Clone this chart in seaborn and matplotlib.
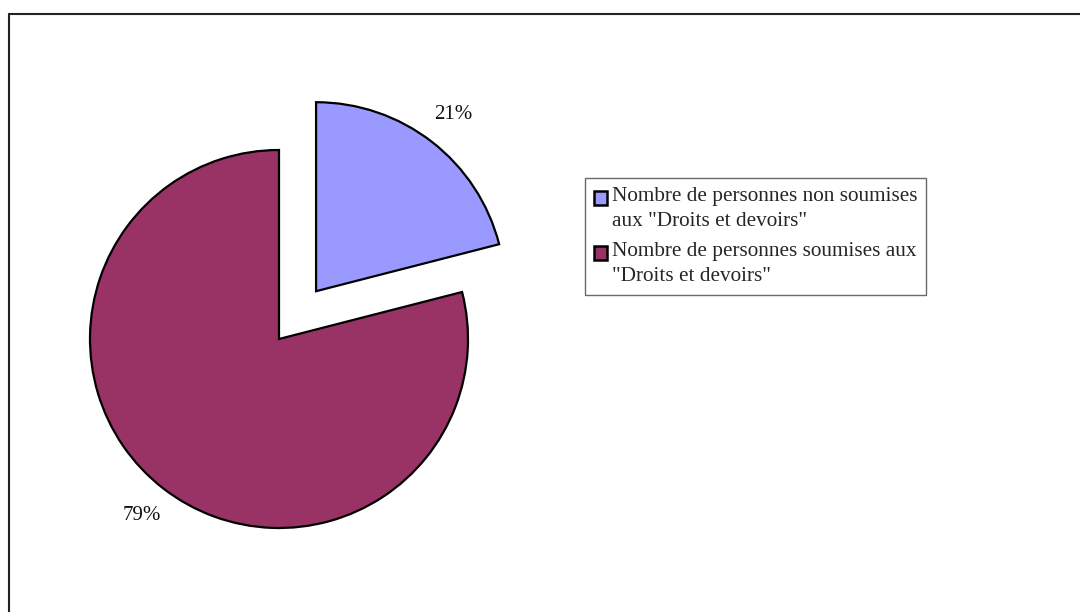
import matplotlib
matplotlib.use("Agg")
import matplotlib.pyplot as plt
import seaborn as sns
from matplotlib.lines import Line2D
from matplotlib.patches import Rectangle
from matplotlib.legend_handler import HandlerPatch

categories = ['Nombre de personnes non soumises\naux "Droits et devoirs"',
              'Nombre de personnes soumises aux\n"Droits et devoirs"']
values = [21, 79]
colors = ["#9999FF", "#993366"]
explode = [0.32, 0.0]

sns.set_theme(style="white")
plt.rcParams['font.family'] = ['Liberation Serif', 'DejaVu Serif']

W, H = 1080, 612
fig = plt.figure(figsize=(W / 100, H / 100), dpi=100)

# pie axes: centre at (279, 339) px, radius 189 px, limits [-1.5, 1.5]
r = 189
cx, cy = 279, 339
half = 1.5 * r
ax = fig.add_axes([(cx - half) / W, (H - cy - half) / H, 2 * half / W, 2 * half / H])
wedges, texts, autotexts = ax.pie(
    values, colors=colors, explode=explode, startangle=90, counterclock=False,
    autopct=lambda p: f"{p:.0f}%", pctdistance=1.18,
    wedgeprops=dict(edgecolor="black", linewidth=1.6),
    textprops=dict(fontsize=15, color="#111111"))
ax.set_xlim(-1.5, 1.5)
ax.set_ylim(-1.5, 1.5)
ax.set_aspect('auto')
ax.axis('off')


class TopSquareHandler(HandlerPatch):
    """Square legend key aligned with the first text line."""
    def create_artists(self, legend, orig_handle, xdescent, ydescent,
                       width, height, fontsize, trans):
        p = Rectangle((-xdescent, -ydescent + 7.5), width, height)
        self.update_prop(p, orig_handle, legend)
        p.set_transform(trans)
        return [p]


leg = fig.legend(wedges, categories, loc='upper left',
                 bbox_to_anchor=(585 / W, 1 - 178 / H), frameon=True,
                 fontsize=15.3, handlelength=0.62, handleheight=0.62,
                 handletextpad=0.22, borderpad=0.42, labelspacing=0.5,
                 borderaxespad=0, fancybox=False,
                 handler_map={w: TopSquareHandler() for w in wedges})
for t in leg.get_texts():
    t.set_linespacing(1.45)
leg.get_frame().set_edgecolor("#444444")
leg.get_frame().set_linewidth(1.0)
for h in leg.legend_handles:
    h.set_edgecolor("black")
    h.set_linewidth(1.8)

# figure border (left and top)
fig.add_artist(Line2D([9 / W, 9 / W], [0, 1 - 14 / H], transform=fig.transFigure,
                      color="#222222", linewidth=1.5))
fig.add_artist(Line2D([9 / W, 1], [1 - 14 / H, 1 - 14 / H], transform=fig.transFigure,
                      color="#222222", linewidth=1.5))

fig.savefig("out.png", dpi=100)
